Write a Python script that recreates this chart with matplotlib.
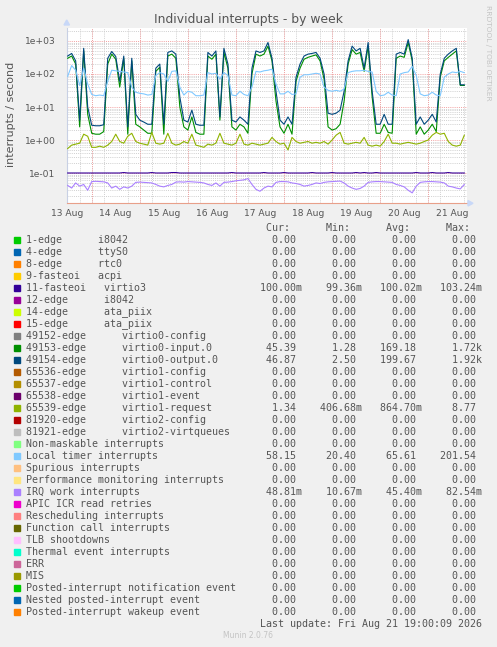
import numpy as np
import matplotlib.pyplot as plt
from matplotlib.patches import Rectangle
from matplotlib.ticker import LogLocator, NullFormatter

W, H = 497, 647

# Samples every 2 hours from 13 Aug 12:00 (x in days from 13 Aug 00:00)
n_samples = 100
t = 0.5 + np.arange(n_samples) / 12.0

# 11-fasteoi virtio3
virtio3 = [0.1, 0.1, 0.1, 0.1, 0.1, 0.1, 0.1, 0.1, 0.1, 0.1,
           0.1, 0.1, 0.1, 0.1, 0.1032, 0.1, 0.1, 0.1, 0.1, 0.1,
           0.1, 0.1032, 0.1, 0.1, 0.1, 0.1, 0.1032, 0.1032, 0.1, 0.1,
           0.1, 0.1, 0.1, 0.1, 0.1, 0.1, 0.1, 0.1, 0.1, 0.1,
           0.1, 0.1032, 0.1, 0.1, 0.1, 0.1, 0.1, 0.1, 0.1, 0.1032,
           0.1, 0.1, 0.1, 0.1, 0.1032, 0.1, 0.1, 0.1, 0.1, 0.1,
           0.1, 0.1032, 0.1, 0.1, 0.1, 0.1, 0.1032, 0.1, 0.1, 0.1,
           0.1, 0.1, 0.1032, 0.1, 0.1032, 0.1, 0.1, 0.1032, 0.1, 0.1,
           0.1, 0.1, 0.1, 0.1, 0.1, 0.1, 0.1, 0.1032, 0.1, 0.1,
           0.1, 0.1032, 0.1, 0.1, 0.1, 0.1032, 0.1, 0.1, 0.1, 0.1]

# 49153-edge virtio0-input.0
input0 = [300, 350, 200, 2.5, 500, 6, 1.6, 1.5, 1.5, 1.8,
          200, 400, 280, 40, 300, 1.5, 250, 3, 2.5, 2,
          1.6, 1.6, 120, 160, 1.5, 350, 400, 300, 10, 2.5,
          2, 5, 1.7, 1.5, 1.5, 350, 280, 400, 4, 450,
          150, 2.5, 2, 3, 2.5, 1.6, 100, 400, 350, 400,
          700, 250, 15, 2.5, 1.6, 3, 1.5, 60, 150, 280,
          320, 350, 380, 250, 70, 2.5, 2, 2.2, 3, 15,
          200, 550, 400, 450, 120, 700, 20, 1.6, 1.6, 3,
          1.7, 1.6, 300, 350, 320, 900, 250, 1.5, 2.5, 1.5,
          2, 3, 1.8, 80, 250, 320, 400, 500, 45, 45]

# 49154-edge virtio0-output.0
output0 = [350, 420, 250, 4, 600, 10, 2.8, 2.7, 2.7, 2.9,
           300, 480, 340, 60, 350, 2.5, 300, 6, 4, 3.5,
           3, 3, 150, 200, 3, 450, 500, 400, 20, 4,
           3.5, 8, 3, 2.8, 2.8, 450, 350, 500, 5, 600,
           200, 4, 3.5, 5, 4, 3, 150, 500, 450, 500,
           900, 300, 30, 4, 3, 5, 3, 80, 200, 350,
           400, 420, 450, 300, 100, 6.5, 6, 6.5, 8, 30,
           250, 700, 500, 600, 150, 900, 30, 3, 3, 6,
           3, 3, 400, 450, 400, 1100, 300, 3, 5, 3,
           4, 6, 3.5, 100, 300, 400, 500, 600, 47, 47]

# 65539-edge virtio1-request
request1 = [0.55, 0.7, 0.75, 0.8, 1.5, 1.3, 0.6, 0.6, 0.65, 0.6,
            0.7, 0.9, 1.5, 0.9, 0.8, 1.3, 1.6, 0.9, 0.8, 0.75,
            0.7, 1.7, 0.8, 0.75, 0.8, 1.6, 0.8, 0.7, 0.75, 0.9,
            0.8, 1.5, 0.7, 0.65, 0.6, 0.75, 0.7, 0.8, 1.6, 0.8,
            0.75, 0.7, 0.8, 1.5, 0.75, 0.7, 0.8, 0.75, 0.7, 0.75,
            0.8, 1.2, 0.9, 0.75, 0.8, 0.5, 1.2, 0.9, 0.8, 0.85,
            0.9, 0.8, 0.85, 0.8, 0.9, 0.75, 1.0, 1.4, 1.7, 0.8,
            0.75, 0.8, 0.85, 0.8, 1.2, 0.7, 0.65, 0.7, 0.65, 0.9,
            1.5, 0.8, 0.8, 0.75, 0.8, 0.85, 0.8, 0.75, 0.8, 0.9,
            1.0, 1.4, 1.7, 1.5, 1.6, 0.9, 0.7, 0.65, 0.7, 1.4]

# Local timer interrupts
local_timer = [85, 180, 130, 45, 150, 50, 24, 22, 23, 22,
               60, 130, 125, 120, 115, 110, 40, 28, 26, 25,
               23, 24, 90, 110, 100, 60, 120, 125, 40, 23,
               30, 28, 22, 22, 23, 110, 100, 105, 70, 110,
               90, 23, 22, 30, 24, 22, 40, 120, 115, 125,
               130, 140, 50, 25, 25, 30, 24, 25, 80, 95,
               95, 100, 105, 100, 40, 32, 30, 32, 30, 35,
               110, 120, 125, 125, 130, 120, 115, 30, 22, 23,
               28, 23, 22, 100, 110, 115, 170, 90, 25, 22,
               23, 28, 23, 22, 80, 100, 115, 110, 120, 110]

# IRQ work interrupts
irq_work = [0.042, 0.035, 0.05, 0.04, 0.045, 0.03, 0.055, 0.056, 0.055, 0.054,
            0.05, 0.035, 0.04, 0.032, 0.038, 0.035, 0.04, 0.052, 0.053, 0.052,
            0.051, 0.05, 0.045, 0.04, 0.038, 0.042, 0.045, 0.053, 0.054, 0.053,
            0.055, 0.054, 0.053, 0.052, 0.05, 0.045, 0.042, 0.05, 0.04, 0.052,
            0.053, 0.055, 0.058, 0.06, 0.062, 0.068, 0.045, 0.032, 0.028, 0.035,
            0.04, 0.038, 0.052, 0.055, 0.055, 0.054, 0.05, 0.048, 0.045, 0.04,
            0.042, 0.045, 0.05, 0.048, 0.052, 0.054, 0.055, 0.056, 0.057, 0.05,
            0.04, 0.035, 0.032, 0.034, 0.04, 0.052, 0.054, 0.055, 0.055, 0.054,
            0.053, 0.052, 0.045, 0.042, 0.038, 0.03, 0.025, 0.04, 0.052, 0.054,
            0.055, 0.055, 0.054, 0.053, 0.05, 0.04, 0.038, 0.035, 0.033, 0.045]

day_labels = ['13 Aug', '14 Aug', '15 Aug', '16 Aug', '17 Aug',
              '18 Aug', '19 Aug', '20 Aug', '21 Aug']

# Legend table
labels = ['1-edge      i8042', '4-edge      ttyS0', '8-edge      rtc0',
          '9-fasteoi   acpi', '11-fasteoi   virtio3', '12-edge      i8042',
          '14-edge      ata_piix', '15-edge      ata_piix',
          '49152-edge      virtio0-config', '49153-edge      virtio0-input.0',
          '49154-edge      virtio0-output.0', '65536-edge      virtio1-config',
          '65537-edge      virtio1-control', '65538-edge      virtio1-event',
          '65539-edge      virtio1-request', '81920-edge      virtio2-config',
          '81921-edge      virtio2-virtqueues', 'Non-maskable interrupts',
          'Local timer interrupts', 'Spurious interrupts',
          'Performance monitoring interrupts', 'IRQ work interrupts',
          'APIC ICR read retries', 'Rescheduling interrupts',
          'Function call interrupts', 'TLB shootdowns',
          'Thermal event interrupts', 'ERR', 'MIS',
          'Posted-interrupt notification event', 'Nested posted-interrupt event',
          'Posted-interrupt wakeup event']
colors = ['#00CC00', '#0066B3', '#FF8000', '#FFCC00', '#330099', '#990099',
          '#CCFF00', '#FF0000', '#808080', '#008F00', '#00487D', '#B35A00',
          '#B38F00', '#6B006B', '#8FB300', '#B30000', '#BEBEBE', '#80FF80',
          '#80C9FF', '#FFC080', '#FFE680', '#AA80FF', '#EE00CC', '#FF8080',
          '#666600', '#FFBFFF', '#00FFCC', '#CC6699', '#999900', '#00CC00',
          '#0066B3', '#FF8000']
cur = [0, 0, 0, 0, 0.1, 0, 0, 0, 0, 45.39, 46.87, 0, 0, 0, 1.34, 0, 0,
       0, 58.15, 0, 0, 0.04881, 0, 0, 0, 0, 0, 0, 0, 0, 0, 0]
mins = [0, 0, 0, 0, 0.09936, 0, 0, 0, 0, 1.28, 2.50, 0, 0, 0, 0.40668, 0, 0,
        0, 20.40, 0, 0, 0.01067, 0, 0, 0, 0, 0, 0, 0, 0, 0, 0]
avgs = [0, 0, 0, 0, 0.10002, 0, 0, 0, 0, 169.18, 199.67, 0, 0, 0, 0.8647, 0, 0,
        0, 65.61, 0, 0, 0.04540, 0, 0, 0, 0, 0, 0, 0, 0, 0, 0]
maxs = [0, 0, 0, 0, 0.10324, 0, 0, 0, 0, 1720, 1920, 0, 0, 0, 8.77, 0, 0,
        0, 201.54, 0, 0, 0.08254, 0, 0, 0, 0, 0, 0, 0, 0, 0, 0]


def fmt(v):
    if v == 0:
        return '  0.00 '
    if v < 1:
        return '%6.2fm' % (v * 1000)
    if v >= 1000:
        return '%6.2fk' % (v / 1000)
    return '%6.2f ' % v


def fx(x):
    return x / W


def fy(y):
    return 1 - y / H


fig = plt.figure(figsize=(W / 100, H / 100), dpi=100)
fig.patch.set_facecolor('#F0F0F0')

ax = fig.add_axes([fx(66.7), fy(203.3), (466.7 - 66.7) / W, (203.3 - 27.5) / H])
ax.set_facecolor('white')
ax.set_yscale('log')
ax.set_xlim(0.48, 8.80)
ax.set_ylim(10 ** -1.918, 10 ** 3.409)

lw = 0.8
ax.plot(t, virtio3, color='#330099', lw=lw, zorder=3)
ax.plot(t, input0, color='#008F00', lw=lw, zorder=3)
ax.plot(t, output0, color='#00487D', lw=lw, zorder=3)
ax.plot(t, request1, color='#8FB300', lw=lw, zorder=3)
ax.plot(t, local_timer, color='#80C9FF', lw=lw, zorder=3)
ax.plot(t, irq_work, color='#AA80FF', lw=lw, zorder=3)

# grid
dot = (0, (1, 1.2))
ax.set_xticks(np.arange(0.5, 9, 1.0))
ax.set_xticklabels(day_labels)
ax.set_xticks(np.arange(0.5, 8.8, 0.25), minor=True)
ax.grid(True, which='minor', axis='x', color='#cfcfcf', lw=0.7, ls=dot)
for d in range(1, 9):
    ax.axvline(d, color='#f2a0a0', lw=0.7, ls=dot, zorder=1)
ax.yaxis.set_minor_locator(LogLocator(base=10, subs=np.arange(2, 10), numticks=20))
ax.yaxis.set_minor_formatter(NullFormatter())
ax.set_yticks([0.1, 1, 10, 100, 1000])
ax.set_yticklabels(['1e-01', '1e+00', '1e+01', '1e+02', '1e+03'])
ax.grid(True, which='minor', axis='y', color='#cfcfcf', lw=0.7, ls=dot)
ax.grid(True, which='major', axis='y', color='#f2a0a0', lw=0.7, ls=dot)
ax.set_axisbelow(True)
ax.tick_params(which='both', length=0, colors='#555555', labelsize=6.6)
ax.tick_params(axis='y', pad=8)
ax.tick_params(axis='x', pad=4)
for s in ['top', 'right']:
    ax.spines[s].set_visible(False)
ax.spines['left'].set_color('#c8d0e4')
ax.spines['left'].set_linewidth(0.8)
ax.spines['bottom'].set_color('#e8a08a')
ax.spines['bottom'].set_linewidth(0.8)

# axis arrows
fig.patches.append(plt.Polygon([[fx(64), fy(25)], [fx(69.5), fy(25)], [fx(66.7), fy(20)]],
                               closed=True, color='#c8d8f8', transform=fig.transFigure))
fig.patches.append(plt.Polygon([[fx(468), fy(200.5)], [fx(468), fy(206)], [fx(473), fy(203.3)]],
                               closed=True, color='#c8d8f8', transform=fig.transFigure))

fig.text(fx(248), fy(19), 'Individual interrupts - by week', ha='center', va='center',
         fontsize=8.9, color='#555555')
fig.text(fx(11), fy(114), 'interrupts / second', rotation=90, ha='center', va='center',
         fontsize=8.0, color='#555555')
fig.text(fx(488), fy(53), 'RRDTOOL / TOBI OETIKER', rotation=-90, ha='center', va='center',
         fontsize=5.4, color='#c4c4c4')

# legend
mono = dict(family='DejaVu Sans Mono', fontsize=7.2, color='#555555', va='center')
header = ' ' * 40 + 'Cur:' + ' ' * 6 + 'Min:' + ' ' * 6 + 'Avg:' + ' ' * 6 + 'Max:'
fig.text(fx(26), fy(228), header, **mono)
for k, lab in enumerate(labels):
    y = 240 + 12 * k
    fig.patches.append(Rectangle((fx(14), fy(y + 3)), 6 / W, 6 / H, color=colors[k],
                                 transform=fig.transFigure))
    row = lab.ljust(39) + fmt(cur[k]) + '   ' + fmt(mins[k]) + '   ' + \
        fmt(avgs[k]) + '   ' + fmt(maxs[k])
    fig.text(fx(26), fy(y), row, **mono)
fig.text(fx(26), fy(240 + 12 * len(labels)),
         ' ' * 39 + 'Last update: Fri Aug 21 19:00:09 2026', **mono)
fig.text(fx(248), fy(636), 'Munin 2.0.76', ha='center', va='center',
         fontsize=5.5, color='#c4c4c4')

fig.savefig('out.png', dpi=100, facecolor=fig.get_facecolor())
